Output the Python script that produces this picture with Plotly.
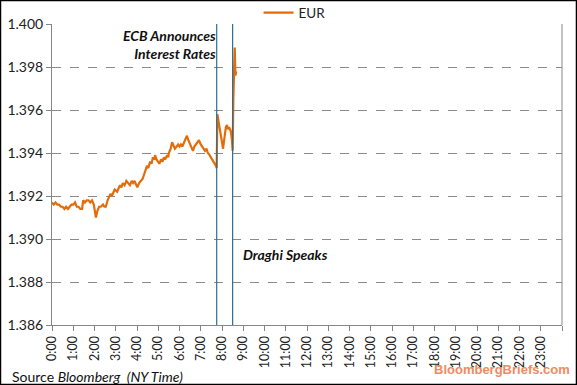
import plotly.graph_objects as go

# Intraday EUR (minutes after midnight, NY time) and values
minutes = [0, 5, 10, 15, 20, 25, 30, 35, 40, 45, 50, 55, 60, 65, 70, 75, 80, 85,
           88, 93, 98, 103, 108, 113, 118, 121, 124, 128, 133, 138, 144, 148, 152,
           157, 161, 165, 169, 173, 177, 184, 189, 192, 196, 200, 205, 210, 215,
           220, 225, 229, 233, 237, 241, 246, 251, 256, 260, 264, 268, 272, 277,
           281, 285, 289, 291, 295, 299, 303, 308, 312, 316, 320, 325, 328, 330,
           335, 339, 343, 347, 352, 356, 360, 364, 368, 373, 377, 381, 385, 390,
           394, 398, 402, 407, 411, 415, 420, 424, 428, 432, 436, 440, 445, 449,
           453, 457, 461, 463, 465, 467, 469, 471, 473, 475, 477, 480, 483, 486,
           488, 491, 494, 497, 500, 503, 505, 508, 510, 512, 514, 516, 518, 520]
eur = [1.3917, 1.3916, 1.3917, 1.3916, 1.3916, 1.3915, 1.3915, 1.3914, 1.3915, 1.3914,
       1.3915, 1.3916, 1.3916, 1.3917, 1.3915, 1.3915, 1.3914, 1.3914,
       1.3918, 1.3917, 1.3918, 1.3918, 1.3917, 1.3918, 1.3916, 1.3913, 1.3910, 1.3913,
       1.3915, 1.3915, 1.3916, 1.3915, 1.3915,
       1.3918, 1.3920, 1.3921, 1.3920, 1.3922, 1.3923, 1.3922, 1.3924, 1.3925, 1.3924,
       1.3926, 1.3925, 1.3927, 1.3926, 1.3925, 1.3927, 1.3926, 1.3927, 1.3925, 1.3924,
       1.3926, 1.3927, 1.3928, 1.3930, 1.3932, 1.3934, 1.3933, 1.3936, 1.3935, 1.3938,
       1.3937, 1.3939, 1.3937, 1.3936, 1.3935, 1.3937, 1.3936, 1.3938, 1.3937, 1.3939,
       1.3938, 1.3940, 1.3942, 1.3945, 1.3943, 1.3942, 1.3943, 1.3944, 1.3943, 1.3944,
       1.3943, 1.3945, 1.3946, 1.3948, 1.3946, 1.3944, 1.3942, 1.3941, 1.3943, 1.3944,
       1.3945, 1.3946, 1.3944, 1.3943, 1.3942, 1.3941, 1.3942, 1.3940, 1.3939, 1.3938,
       1.3937, 1.3936, 1.3935, 1.3934, 1.3933, 1.3958, 1.3956, 1.3954, 1.3953, 1.3950,
       1.3948, 1.3945, 1.3942, 1.3946, 1.3949, 1.3952, 1.3953, 1.3951, 1.3952, 1.3950,
       1.3950, 1.3946, 1.3941, 1.3965, 1.3980, 1.3989, 1.3976, 1.3978]

hours = [m / 60 for m in minutes]

tick_hours = list(range(0, 25))
tick_labels = [f"{h}:00" for h in range(0, 24)] + [""]

ecb_hour = 7.75
draghi_hour = 8.5

fig = go.Figure()
fig.add_trace(go.Scatter(
    x=hours, y=eur, mode="lines", name="EUR",
    line=dict(color="#E36C0A", width=2.2),
))

fig.update_layout(
    width=577, height=385,
    margin=dict(l=52, r=15, t=24, b=60, autoexpand=False),
    paper_bgcolor="white", plot_bgcolor="white",
    font=dict(family="Lato, Open Sans, sans-serif", color="#222222", size=13),
    showlegend=True,
    legend=dict(x=0.405, y=1.037, xanchor="left", yanchor="middle",
                orientation="h", font=dict(size=13.5), bgcolor="rgba(0,0,0,0)",
                itemwidth=30),
    xaxis=dict(
        range=[0, 24], tickvals=tick_hours, ticktext=tick_labels,
        tickangle=-90, showgrid=False, zeroline=False, automargin=False,
        showline=True, linecolor="#868686", linewidth=1,
        ticks="outside", ticklen=5, tickcolor="#868686",
        tickfont=dict(size=12.5),
    ),
    yaxis=dict(
        range=[1.386, 1.400], dtick=0.002, tickformat=".3f", automargin=False,
        showgrid=True, gridcolor="#8a8a8a", griddash="dash", gridwidth=1,
        zeroline=False, showline=True, linecolor="#868686", linewidth=1,
        ticks="outside", ticklen=5, tickcolor="#868686",
        tickfont=dict(size=14),
    ),
)

# event lines
for h in (ecb_hour, draghi_hour):
    fig.add_shape(type="line", xref="x", yref="paper", x0=h, x1=h, y0=0, y1=1,
                  line=dict(color="#2A6F90", width=1.2))

# right border of plot area
fig.add_shape(type="line", xref="paper", yref="paper", x0=1, x1=1, y0=0, y1=1,
              line=dict(color="#868686", width=1))

# outer frame
fig.add_shape(type="rect", xref="paper", yref="paper",
              x0=-0.1010, x1=1.0284, y0=-0.1977, y1=1.0781,
              line=dict(color="black", width=1.5), layer="above")

fig.add_annotation(x=ecb_hour, y=1.3995, xref="x", yref="y",
                   text="<b><i>ECB Announces<br>Interest Rates</i></b>",
                   showarrow=False, xanchor="right", yanchor="middle", align="right",
                   xshift=1, yshift=-10, font=dict(size=14, color="#111111"))
fig.add_annotation(x=draghi_hour, y=1.3893, xref="x", yref="y",
                   text="<b><i>Draghi Speaks</i></b>",
                   showarrow=False, xanchor="left", yanchor="middle", align="left",
                   xshift=8, font=dict(size=14, color="#111111"))

fig.add_annotation(x=-0.083, y=-0.17, xref="paper", yref="paper",
                   text="Source <i>Bloomberg  (NY Time)</i>",
                   showarrow=False, xanchor="left", yanchor="middle",
                   font=dict(size=14, color="#111111"))
fig.add_annotation(x=1.02, y=-0.148, xref="paper", yref="paper",
                   text="<b>BloombergBriefs.com</b>",
                   showarrow=False, xanchor="right", yanchor="middle",
                   font=dict(family="Liberation Sans, Arial, sans-serif",
                             size=13, color="#F08A62"))

fig.write_html("out.html",
               config={"displayModeBar": False},
               post_script="document.body.style.margin='0px';"
                           "document.body.style.overflow='hidden';")
